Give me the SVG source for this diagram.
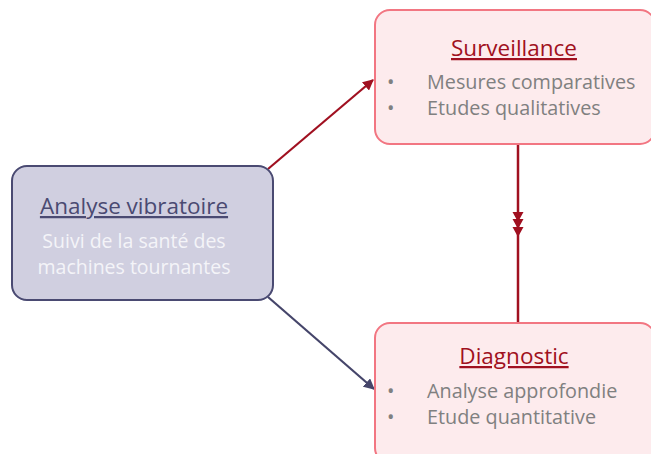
<svg xmlns="http://www.w3.org/2000/svg" width="651" height="454" viewBox="0 0 651 454">
<style>
.ttl{font-family:"Open Sans","Liberation Sans",sans-serif;font-size:22.5px;text-anchor:middle;text-decoration:underline}
.sub{font-family:"Open Sans","Liberation Sans",sans-serif;font-size:19.5px;fill:#f4f4f8;text-anchor:middle}
.bul{font-family:"Open Sans","Liberation Sans",sans-serif;font-size:19.8px;fill:#808080}
.pink{fill:#fdebed;stroke:#f27682;stroke-width:2}
</style>
<defs>
<marker id="ar" viewBox="0 0 10 10" refX="9" refY="5" markerWidth="5" markerHeight="5" orient="auto" markerUnits="strokeWidth"><path d="M0,0 L10,5 L0,10 z" fill="#a01020"/></marker>
<marker id="ab" viewBox="0 0 10 10" refX="9" refY="5" markerWidth="5" markerHeight="5" orient="auto" markerUnits="strokeWidth"><path d="M0,0 L10,5 L0,10 z" fill="#45456a"/></marker>
</defs>
<g id="connectors">
<line x1="268" y1="169" x2="373" y2="80" stroke="#a01020" stroke-width="2.2" marker-end="url(#ar)"/>
<line x1="268" y1="297" x2="374" y2="389" stroke="#45456a" stroke-width="2.2" marker-end="url(#ab)"/>
<line x1="518" y1="144" x2="518" y2="323" stroke="#a01020" stroke-width="2.5"/>
<path d="M512.5,212 L523.5,212 L518,222 z M512.5,219 L523.5,219 L518,229 z M512.5,227 L523.5,227 L518,237 z" fill="#a01020"/>
</g>
<g id="analyse">
<rect x="12" y="166" width="261" height="134" rx="15" fill="#d0cfe0" stroke="#4a4a72" stroke-width="2"/>
<text class="ttl" x="134" y="214" fill="#4a4a72">Analyse vibratoire</text>
<text class="sub" x="134" y="248">Suivi de la santé des</text>
<text class="sub" x="134" y="274">machines tournantes</text>
</g>
<g id="surveillance">
<rect class="pink" x="375" y="10" width="280" height="134" rx="15"/>
<text class="ttl" x="514" y="56" fill="#a01020">Surveillance</text>
<text class="bul" x="387" y="89">•</text>
<text class="bul" x="427" y="89">Mesures comparatives</text>
<text class="bul" x="387" y="115">•</text>
<text class="bul" x="427" y="115">Etudes qualitatives</text>
</g>
<g id="diagnostic">
<rect class="pink" x="375" y="323" width="280" height="140" rx="15"/>
<text class="ttl" x="514" y="364" fill="#a01020">Diagnostic</text>
<text class="bul" x="387" y="398">•</text>
<text class="bul" x="427" y="398">Analyse approfondie</text>
<text class="bul" x="387" y="424">•</text>
<text class="bul" x="427" y="424">Etude quantitative</text>
</g>
</svg>
